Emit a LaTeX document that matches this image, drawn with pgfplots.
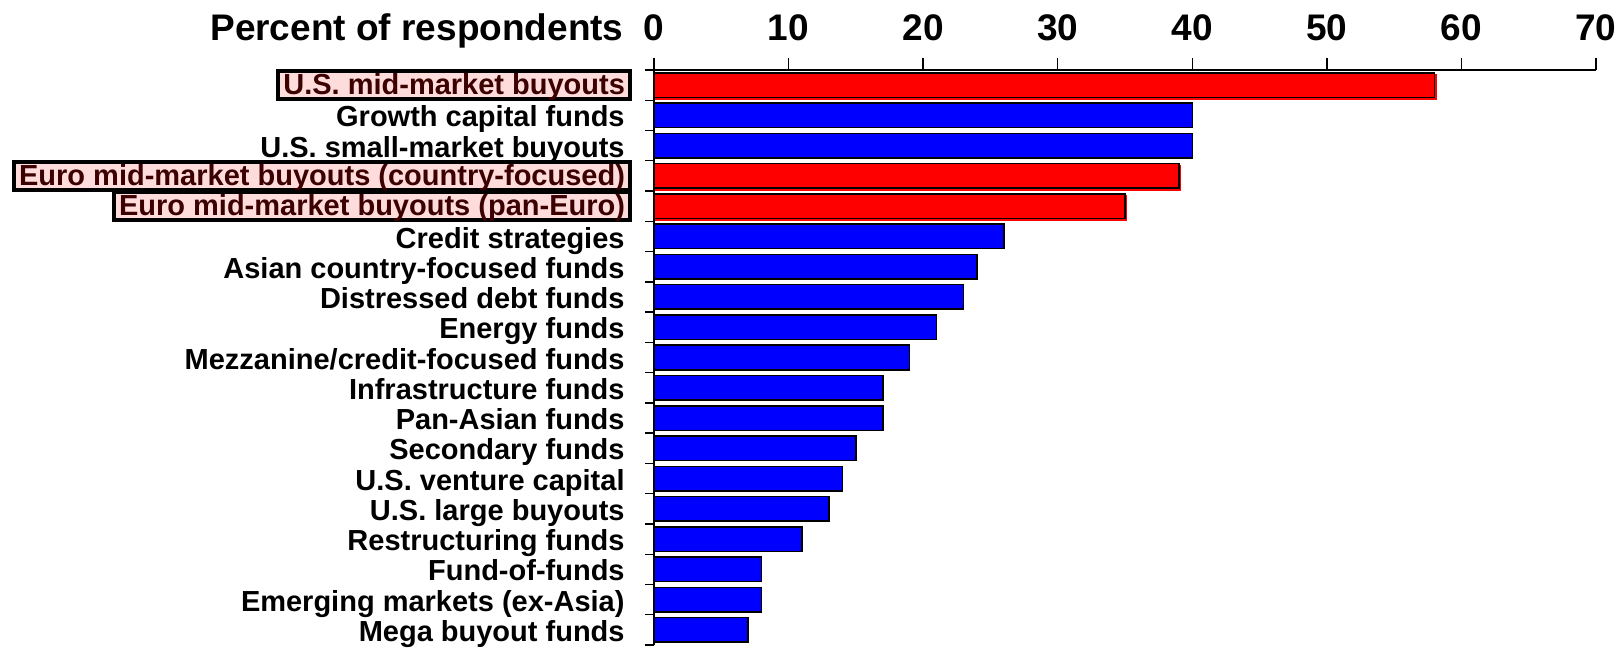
\documentclass[border=0pt]{standalone}
\usepackage{fontspec}
\setmainfont{Liberation Sans}
\usepackage{pgfplots}
\pgfplotsset{compat=1.18}
\definecolor{barred}{RGB}{255,0,0}
\definecolor{barblue}{RGB}{0,0,255}
\definecolor{hlfill}{RGB}{255,220,220}
\definecolor{hltext}{RGB}{60,0,0}
\begin{document}
\begin{tikzpicture}
\begin{axis}[name=ax, scale only axis, width=471pt, height=287.5pt,
  xbar, bar width=0.81, bar shift=0pt,
  xmin=0, xmax=70, ymin=-0.5, ymax=18.5,
  enlargelimits=false,
  axis x line*=top, axis y line*=left,
  axis line style={line width=0.7pt, black},
  tick align=outside,
  major tick length=6pt, minor tick length=4.5pt,
  xtick={0,10,...,70},
  ytick={0,...,18},
  minor ytick={-0.5,0.5,...,18.5},
  major y tick style={draw=none},
  minor y tick style={black, line width=0.7pt},
  major x tick style={black, line width=0.7pt},
  /pgf/number format/assume math mode=true,
  xticklabel style={font=\fontsize{18.5}{20}\selectfont\bfseries, anchor=base, inner sep=0pt, yshift=8.7pt},
  yticklabel style={font=\fontsize{14.5}{15}\selectfont\bfseries, anchor=east, inner sep=0pt, text height=10.6pt, text depth=3pt, xshift=-8.5pt, yshift=-2pt},
  yticklabels={Mega buyout funds, Emerging markets (ex-Asia), Fund-of-funds, Restructuring funds, U.S. large buyouts, U.S. venture capital, Secondary funds, Pan-Asian funds, Infrastructure funds, Mezzanine/credit-focused funds, Energy funds, Distressed debt funds, Asian country-focused funds, Credit strategies, {}, {}, U.S. small-market buyouts, Growth capital funds, {}},
  extra y ticks={18,15,14},
  extra y tick labels={U.S. mid-market buyouts, Euro mid-market buyouts (country-focused), Euro mid-market buyouts (pan-Euro)},
  extra y tick style={yticklabel style={draw=black, line width=2pt, fill=hlfill, text=hltext, inner xsep=2.5pt, inner ysep=0.2pt, text height=11.4pt, text depth=2.2pt, xshift=3.5pt, yshift=2pt}},
]
\addplot[fill=barred, draw=barred, line width=0.75pt, xshift=0.8pt, yshift=-0.8pt] coordinates {(58,18) (39,15) (35,14)};
\addplot[fill=barred, draw=black, line width=0.75pt] coordinates {(58,18) (39,15) (35,14)};
\addplot[fill=barblue, draw=black, line width=0.75pt] coordinates {
(40,17) (40,16) (26,13) (24,12) (23,11) (21,10) (19,9) (17,8) (17,7) (15,6) (14,5) (13,4) (11,3) (8,2) (8,1) (7,0)};
\end{axis}
\node[anchor=base east, inner sep=0pt, font=\fontsize{18.5}{20}\selectfont\bfseries] at ([shift={(-15pt,14.7pt)}]ax.north west) {Percent of respondents};
\pgfresetboundingbox
\path[use as bounding box] ([shift={(-327pt,-1pt)}]ax.south west) rectangle ([shift={(12pt,35pt)}]ax.north east);
\end{tikzpicture}
\end{document}
